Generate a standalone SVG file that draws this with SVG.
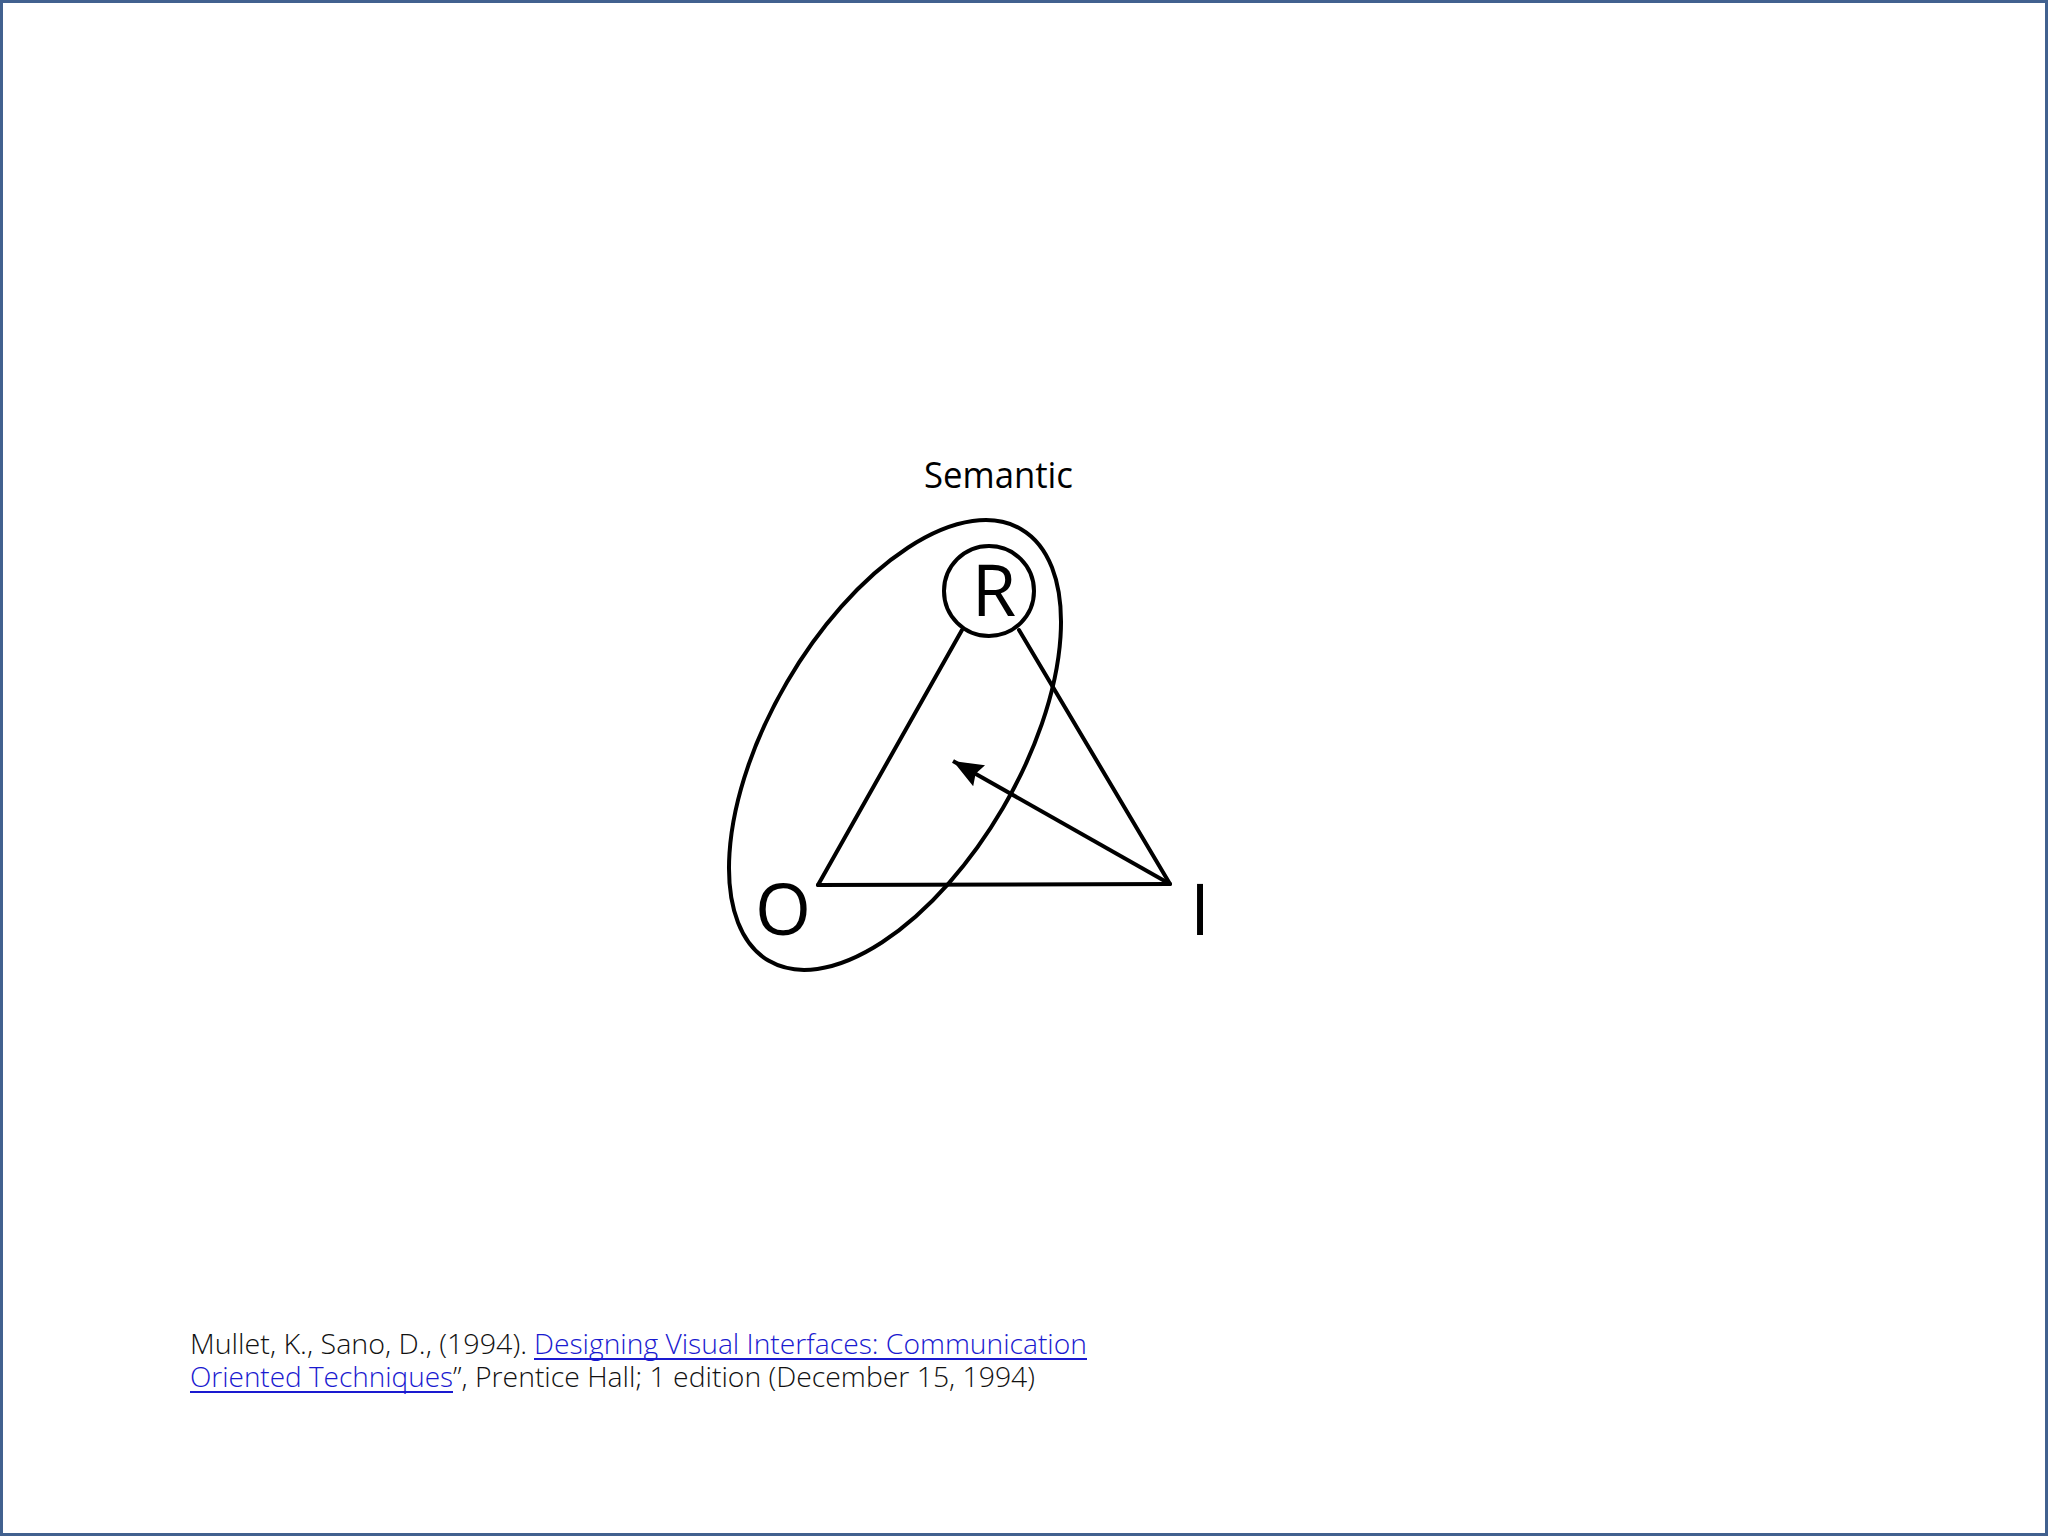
<svg xmlns="http://www.w3.org/2000/svg" width="2048" height="1536" viewBox="0 0 2048 1536">
  <style>
    .ln { fill: none; stroke: #000; stroke-width: 4; stroke-linecap: round; }
    .lbl { font-family: "Open Sans", "Liberation Sans", sans-serif; fill: #000; }
    .cite { font-family: "Open Sans", "Liberation Sans", sans-serif; font-weight: 300; font-size: 27px; fill: #111; }
    .link { fill: #1a1ad0; }
  </style>
  <defs>
    <marker id="arrow" markerUnits="userSpaceOnUse" markerWidth="36" markerHeight="28" refX="30" refY="12" orient="auto">
      <path d="M0,0 L30,12 L0,24 L4,12 Z" fill="#000"/>
    </marker>
  </defs>
  <rect x="1.5" y="1.5" width="2045" height="1533" fill="#ffffff" stroke="#41618f" stroke-width="3"/>

  <g id="semantic-label">
    <text class="lbl" x="924" y="488" font-size="37" textLength="149" lengthAdjust="spacingAndGlyphs">Semantic</text>
  </g>
  <g id="semantic-ellipse">
    <ellipse class="ln" cx="895" cy="745" rx="250" ry="125" transform="rotate(-59.7 895 745)"/>
  </g>
  <g id="connectors">
    <line class="ln" x1="962" y1="630" x2="818" y2="885"/>
    <line class="ln" x1="1019" y1="630" x2="1170" y2="884"/>
    <line class="ln" x1="818" y1="885" x2="1170" y2="884"/>
    <line class="ln" style="stroke-linecap:butt" x1="1170" y1="884" x2="953" y2="761" marker-end="url(#arrow)"/>
  </g>
  <g id="node-R">
    <circle class="ln" cx="989" cy="591" r="45"/>
    <text class="lbl" x="994" y="616" font-size="72" text-anchor="middle">R</text>
  </g>
  <g id="node-O">
    <text class="lbl" x="783" y="935" font-size="72" text-anchor="middle">O</text>
  </g>
  <g id="node-I">
    <text class="lbl" x="1200" y="935" font-size="72" text-anchor="middle">I</text>
  </g>

  <g id="citation">
    <text class="cite" x="190" y="1354" textLength="337" lengthAdjust="spacingAndGlyphs">Mullet, K., Sano, D., (1994).</text>
    <text class="cite link" x="534" y="1354" textLength="553" lengthAdjust="spacingAndGlyphs">Designing Visual Interfaces: Communication</text>
    <line x1="534" y1="1359" x2="1087" y2="1359" stroke="#1a1ad0" stroke-width="2"/>
    <text class="cite link" x="190" y="1387" textLength="263" lengthAdjust="spacingAndGlyphs">Oriented Techniques</text>
    <line x1="190" y1="1392" x2="453" y2="1392" stroke="#1a1ad0" stroke-width="2"/>
    <text class="cite" x="453" y="1387" textLength="582" lengthAdjust="spacingAndGlyphs">”, Prentice Hall; 1 edition (December 15, 1994)</text>
  </g>
</svg>
